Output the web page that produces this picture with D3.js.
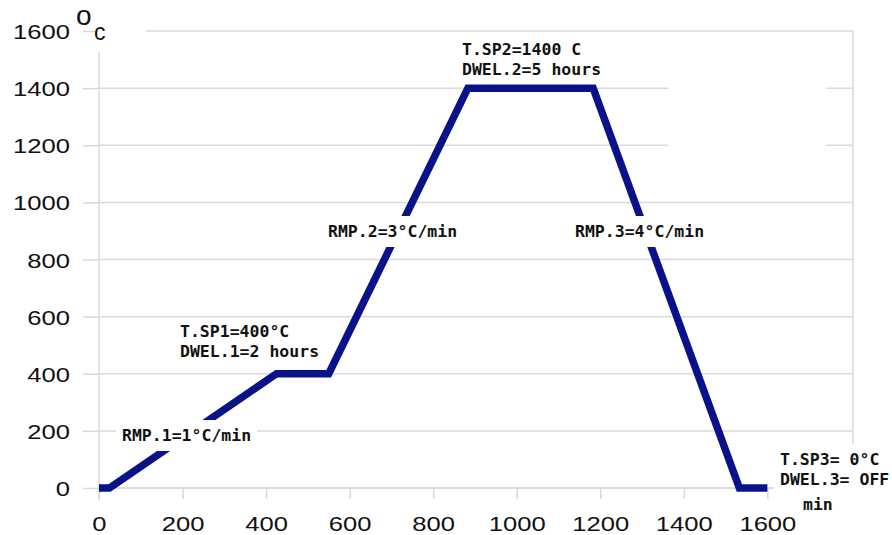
<!DOCTYPE html>
<html><head><meta charset="utf-8">
<script src="https://cdn.jsdelivr.net/npm/d3@7"></script>
<style>body{margin:0;background:#fff}svg{display:block}</style>
</head><body>
<svg id="c" width="892" height="535"></svg>
<script>
// ---- data ----
const times = [0, 25, 425, 550, 883, 1183, 1533, 1600];
const temps = [0, 0, 400, 400, 1400, 1400, 0, 0];
const xTicks = [0, 200, 400, 600, 800, 1000, 1200, 1400, 1600];
const yTicks = [0, 200, 400, 600, 800, 1000, 1200, 1400, 1600];
const annotationTexts = [
  ["T.SP2=1400 C", "DWEL.2=5 hours"],
  ["T.SP1=400°C", "DWEL.1=2 hours"],
  ["RMP.1=1°C/min"],
  ["RMP.2=3°C/min"],
  ["RMP.3=4°C/min"],
  ["T.SP3= 0°C", "DWEL.3= OFF"]
];
const xTitle = "min";
const yUnit = ["o", "c"];

// ---- layout ----
const svg = d3.select("#c");
const x = d3.scaleLinear().domain([0, 1805]).range([99, 853]);
const y = d3.scaleLinear().domain([0, 1600]).range([488, 31]);
const grid = "#d9d9d9";
const sx = 1.22;
const fmt = d3.format("d");
const annPos = [[462, 55], [180, 337], [122, 441], [328, 237], [575, 237], [780, 465]];
const annBox = [false, false, true, true, true, true];

// gridlines
svg.append("g").selectAll("line").data(yTicks).join("line")
  .attr("x1", x(0)).attr("x2", x.range()[1])
  .attr("y1", d => y(d)).attr("y2", d => y(d))
  .attr("stroke", grid).attr("stroke-width", 1.5);
// right border
svg.append("line").attr("x1", x.range()[1]).attr("x2", x.range()[1])
  .attr("y1", y(1600)).attr("y2", y(0)).attr("stroke", grid).attr("stroke-width", 1.5);

// y axis
const ya = svg.append("g").attr("transform", `translate(${x(0)},0)`)
  .call(d3.axisLeft(y).tickValues(yTicks).tickFormat(fmt).tickSize(16).tickSizeOuter(0));
ya.select(".domain").attr("stroke", grid).attr("stroke-width", 1.5)
  .attr("d", `M0,${y(1600)}V${y(0) + 12}`);
ya.selectAll(".tick line").attr("stroke", grid).attr("stroke-width", 1.5);
ya.selectAll(".tick text")
  .attr("x", null).attr("dy", null)
  .attr("transform", `translate(-29,7.5) scale(${sx},1)`)
  .attr("font-family", "Liberation Sans, Arial, sans-serif")
  .attr("font-size", 21).attr("fill", "#111").attr("text-anchor", "end");

// x axis
const xa = svg.append("g").attr("transform", `translate(0,${y(0)})`)
  .call(d3.axisBottom(x).tickValues(xTicks).tickFormat(fmt).tickSize(11).tickSizeOuter(0));
xa.select(".domain").attr("stroke", grid).attr("stroke-width", 1.5)
  .attr("d", `M${x(0)},0H${x.range()[1]}`);
xa.selectAll(".tick line").attr("stroke", grid).attr("stroke-width", 1.5);
xa.selectAll(".tick text")
  .attr("y", null).attr("dy", null)
  .attr("transform", `translate(0,43) scale(${sx},1)`)
  .attr("font-family", "Liberation Sans, Arial, sans-serif")
  .attr("font-size", 21).attr("fill", "#111").attr("text-anchor", "middle");

// data line
const pts = times.map((t, i) => [t, temps[i]]);
svg.append("path").datum(pts)
  .attr("d", d3.line().x(d => x(d[0])).y(d => y(d[1])))
  .attr("fill", "none").attr("stroke", "#0a128a").attr("stroke-width", 7.5)
  .attr("stroke-linejoin", "miter");

// blank white boxes (hidden areas in original)
svg.append("rect").attr("x", 668).attr("y", 60).attr("width", 158).attr("height", 100).attr("fill", "#fff");
svg.append("rect").attr("x", 95).attr("y", 0).attr("width", 51).attr("height", 52).attr("fill", "#fff");

// y unit
svg.append("text").text(yUnit[0]).attr("x", 76).attr("y", 25)
  .attr("font-family", "Liberation Sans, Arial, sans-serif").attr("font-size", 28).attr("fill", "#111");
svg.append("text").text(yUnit[1]).attr("x", 94).attr("y", 40)
  .attr("font-family", "Liberation Sans, Arial, sans-serif").attr("font-size", 23).attr("fill", "#111");

// annotations
const mono = "DejaVu Sans Mono, Liberation Mono, monospace";
annotationTexts.forEach((lines, i) => {
  const g = svg.append("g");
  const rect = g.append("rect").attr("fill", "#fff");
  const t = g.append("text").attr("font-family", mono).attr("font-weight", "bold")
    .attr("font-size", 16.5).attr("fill", "#111");
  lines.forEach((s, j) => {
    t.append("tspan").attr("x", annPos[i][0]).attr("y", annPos[i][1] + j * 20).text(s);
  });
  if (annBox[i]) {
    const b = t.node().getBBox();
    rect.attr("x", b.x - 6).attr("y", b.y - 6).attr("width", b.width + 12).attr("height", b.height + 12);
  }
});

// x title
svg.append("text").text(xTitle).attr("x", 803).attr("y", 510)
  .attr("font-family", mono).attr("font-weight", "bold").attr("font-size", 16.5).attr("fill", "#111");
</script>
</body></html>
